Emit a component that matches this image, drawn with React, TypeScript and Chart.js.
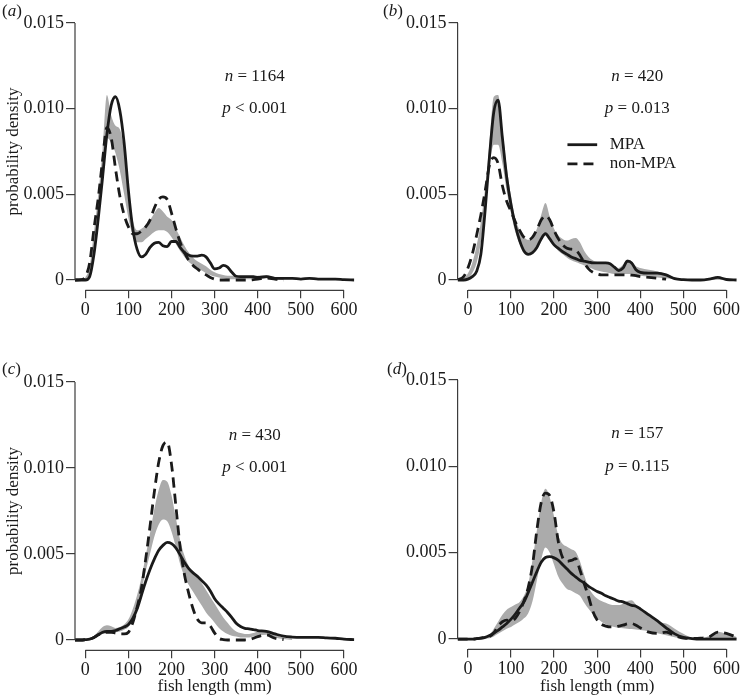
import React, { useEffect, useRef } from 'react';
import { Chart, registerables } from 'chart.js';

Chart.register(...registerables);

// fish length grid (mm)
const lengths = [
  -24, -10, 0, 10, 20, 30, 40, 50, 60, 70,
  80, 90, 100, 110, 120, 130, 140, 150, 160, 170,
  180, 190, 200, 210, 220, 230, 240, 250, 260, 270,
  280, 290, 300, 310, 320, 330, 340, 350, 360, 370,
  380, 390, 400, 420, 440, 460, 480, 500, 520, 540,
  560, 580, 600, 624,
];

const xTicks = [0, 100, 200, 300, 400, 500, 600];
const yTicks = [0, 0.005, 0.01, 0.015];

// probability density values, in units of 0.001
// (a)
const aMpa = [
  0, 0, 0, 0.2, 1.5, 3.6, 6.0, 8.5, 10.2, 10.7,
  9.9, 8.0, 5.2, 3.0, 1.8, 1.35, 1.5, 1.9, 2.15, 2.2,
  2.0, 1.95, 2.25, 2.25, 1.9, 1.6, 1.45, 1.4, 1.4, 1.45,
  1.35, 1.0, 0.65, 0.7, 0.85, 0.75, 0.45, 0.22, 0.2, 0.2,
  0.2, 0.2, 0.15, 0.2, 0.1, 0.1, 0.1, 0.05, 0.1, 0.05,
  0.05, 0.05, 0.02, 0,
];
const aNon = [
  0, 0.02, 0.2, 1.0, 3.0, 4.8, 7.0, 8.9, 8.3, 6.5,
  4.9, 3.8, 3.1, 2.7, 2.7, 2.85, 3.1, 3.5, 4.2, 4.7,
  4.85, 4.7, 3.9, 3.0, 2.2, 1.6, 1.15, 0.85, 0.65, 0.45,
  0.3, 0.15, 0.05, 0, 0, 0, 0, 0, 0, 0,
  0, 0.02, 0.05, 0.12, 0.05, 0, null, null, null, null,
  null, null, null, null,
];
const aLow = [
  0, 0, 0.05, 0.4, 1.8, 3.8, 6.2, 8.3, 8.0, 7.4,
  6.4, 5.0, 3.6, 2.6, 2.2, 2.2, 2.4, 2.6, 2.8, 2.9,
  2.9, 2.8, 2.5, 2.1, 1.7, 1.35, 1.05, 0.85, 0.7, 0.55,
  0.4, 0.3, 0.2, 0.15, 0.1, 0.05, 0.05, 0.05, 0.05, 0.05,
  0.05, 0.05, 0.05, 0.1, 0.05, 0, null, null, null, null,
  null, null, null, null,
];
const aHigh = [
  0, 0, 0.15, 0.8, 2.8, 5.0, 7.6, 10.8, 9.6, 9.0,
  8.8, 7.6, 5.2, 3.5, 2.9, 3.0, 3.2, 3.5, 3.9, 4.2,
  4.0, 3.7, 3.5, 3.0, 2.5, 2.0, 1.6, 1.3, 1.1, 0.95,
  0.8, 0.6, 0.45, 0.35, 0.3, 0.25, 0.25, 0.22, 0.2, 0.2,
  0.2, 0.22, 0.25, 0.3, 0.15, 0.08, null, null, null, null,
  null, null, null, null,
];

// (b)
const bMpa = [
  0, 0, 0.05, 0.2, 0.5, 1.5, 4.1, 7.2, 9.8, 10.5,
  8.3, 6.0, 4.4, 3.2, 2.3, 1.7, 1.5, 1.6, 1.9, 2.4,
  2.7, 2.4, 2.05, 1.85, 1.65, 1.5, 1.35, 1.25, 1.15, 1.1,
  1.05, 1.0, 1.0, 1.0, 1.0, 0.95, 0.75, 0.55, 0.7, 1.1,
  1.0, 0.6, 0.45, 0.4, 0.4, 0.3, 0.08, 0.02, 0, 0,
  0.05, 0.15, 0.03, 0,
];
const bNon = [
  0.02, 0.2, 0.7, 1.5, 2.6, 3.8, 5.2, 6.7, 7.15, 6.8,
  5.5, 4.6, 4.0, 3.4, 2.9, 2.5, 2.35, 2.5, 2.95, 3.5,
  3.75, 3.5, 2.9, 2.4, 2.05, 1.85, 1.8, 1.75, 1.45, 1.0,
  0.65, 0.45, 0.35, 0.3, 0.3, 0.3, 0.3, 0.3, 0.3, 0.3,
  0.28, 0.25, 0.2, 0.15, 0.1, 0.05, null, null, null, null,
  null, null, null, null,
];
const bLow = [
  0, 0, 0.1, 0.4, 1.0, 2.2, 4.2, 6.6, 7.9, 7.9,
  6.8, 5.2, 3.9, 2.8, 2.1, 1.7, 1.5, 1.6, 1.9, 2.4,
  2.7, 2.4, 2.0, 1.7, 1.5, 1.3, 1.15, 1.05, 0.95, 0.85,
  0.75, 0.65, 0.55, 0.5, 0.45, 0.4, 0.35, 0.35, 0.35, 0.35,
  0.35, 0.3, 0.25, 0.2, 0.15, 0.1, 0.03, 0, 0, 0,
  0, 0.02, 0, 0,
];
const bHigh = [
  0, 0.1, 0.4, 1.0, 2.0, 3.4, 5.4, 8.0, 10.7, 10.8,
  8.8, 6.6, 4.9, 3.6, 2.9, 2.5, 2.35, 2.5, 3.0, 3.8,
  4.5, 3.7, 3.0, 2.6, 2.4, 2.3, 2.4, 2.45, 2.2, 1.7,
  1.35, 1.15, 1.05, 1.05, 1.05, 1.0, 0.8, 0.7, 0.9, 1.2,
  1.1, 0.8, 0.7, 0.6, 0.5, 0.35, 0.15, 0.05, 0.02, 0.02,
  0.1, 0.2, 0.05, 0,
];

// (c)
const cMpa = [
  0, 0, 0.02, 0.05, 0.15, 0.3, 0.45, 0.5, 0.5, 0.55,
  0.65, 0.75, 0.9, 1.25, 1.8, 2.6, 3.4, 4.1, 4.7, 5.2,
  5.5, 5.67, 5.6, 5.35, 4.95, 4.5, 4.15, 3.9, 3.7, 3.45,
  3.2, 2.85, 2.4, 2.1, 1.85, 1.6, 1.3, 0.97, 0.78, 0.68,
  0.65, 0.6, 0.55, 0.5, 0.35, 0.22, 0.17, 0.15, 0.15, 0.15,
  0.12, 0.1, 0.05, 0.02,
];
const cNon = [
  0, 0, 0.02, 0.05, 0.15, 0.3, 0.4, 0.45, 0.45, 0.4,
  0.35, 0.35, 0.45, 1.0, 1.9, 3.0, 4.7, 6.6, 8.6, 10.3,
  11.3, 11.5, 10.2, 7.8, 5.4, 3.8, 2.7, 1.8, 1.2, 1.0,
  1.0, 0.8, 0.4, 0.1, 0.02, 0, 0, 0, 0, 0,
  0.02, 0.1, 0.2, 0.3, 0.1, 0.02, null, null, null, null,
  null, null, null, null,
];
const cLow = [
  0, 0, 0, 0.05, 0.1, 0.25, 0.35, 0.4, 0.45, 0.45,
  0.5, 0.6, 0.75, 1.2, 1.9, 2.9, 4.0, 5.0, 6.0, 6.7,
  7.0, 6.9, 6.3, 5.4, 4.4, 3.7, 3.2, 2.8, 2.4, 2.0,
  1.6, 1.3, 1.0, 0.7, 0.5, 0.35, 0.25, 0.2, 0.15, 0.15,
  0.15, 0.2, 0.25, 0.3, 0.15, 0.05, 0, null, null, null,
  null, null, null, null,
];
const cHigh = [
  0, 0, 0.05, 0.1, 0.25, 0.5, 0.75, 0.85, 0.8, 0.7,
  0.75, 0.9, 1.2, 1.8, 2.6, 3.6, 4.9, 6.2, 7.6, 8.7,
  9.3, 9.2, 8.4, 7.1, 5.8, 4.9, 4.3, 3.9, 3.6, 3.3,
  2.9, 2.5, 2.1, 1.7, 1.3, 1.0, 0.7, 0.5, 0.4, 0.35,
  0.35, 0.4, 0.5, 0.5, 0.3, 0.15, 0.05, null, null, null,
  null, null, null, null,
];

// (d)
const dMpa = [
  0, 0, 0, 0, 0.02, 0.05, 0.1, 0.2, 0.35, 0.5,
  0.7, 0.9, 1.15, 1.45, 1.8, 2.15, 2.7, 3.3, 3.9, 4.45,
  4.72, 4.77, 4.7, 4.55, 4.3, 4.05, 3.8, 3.6, 3.4, 3.25,
  3.05, 2.9, 2.75, 2.65, 2.5, 2.4, 2.3, 2.2, 2.15, 2.05,
  1.95, 1.9, 1.75, 1.4, 1.05, 0.65, 0.3, 0.1, 0.03, 0,
  0, 0, 0, 0,
];
const dNon = [
  0, 0, 0, 0, 0.02, 0.05, 0.1, 0.15, 0.35, 0.75,
  1.0, 1.1, 1.05, 1.2, 1.6, 2.2, 3.0, 4.3, 6.3, 7.9,
  8.45, 8.3, 7.3, 5.6, 4.7, 4.5, 4.55, 4.65, 4.0, 3.2,
  2.45, 1.6, 1.1, 0.85, 0.75, 0.7, 0.7, 0.75, 0.8, 0.88,
  0.9, 0.8, 0.65, 0.4, 0.33, 0.4, 0.2, 0.05, 0.03, 0.05,
  0.12, 0.4, 0.33, 0.1,
];
const dLow = [
  0, 0, 0, 0, 0, 0.02, 0.03, 0.05, 0.15, 0.3,
  0.45, 0.6, 0.7, 0.85, 1.0, 1.2, 1.5, 2.2, 3.4, 4.6,
  5.3, 5.0, 4.3, 3.6, 3.2, 2.9, 2.8, 2.65, 2.5, 2.1,
  1.75, 1.45, 1.2, 1.0, 0.85, 0.75, 0.7, 0.65, 0.62, 0.6,
  0.58, 0.55, 0.52, 0.45, 0.33, 0.22, 0.1, 0.03, 0, 0,
  0, 0.05, 0.02, 0,
];
const dHigh = [
  0, 0, 0, 0.02, 0.05, 0.1, 0.15, 0.25, 0.6, 1.0,
  1.4, 1.7, 1.85, 2.0, 2.15, 2.5, 3.2, 4.6, 6.3, 7.9,
  8.7, 8.2, 7.1, 6.0, 5.5, 5.35, 5.2, 5.05, 4.5, 3.7,
  3.0, 2.6, 2.35, 2.2, 2.1, 2.0, 1.97, 1.97, 2.05, 2.2,
  2.25, 2.0, 1.75, 1.35, 1.0, 0.9, 0.6, 0.3, 0.08, 0.05,
  0.18, 0.42, 0.3, 0.12,
];

const FONT = "'Liberation Serif', 'Times New Roman', Times, serif";
const INK = '#1a1a1a';
const AXIS = '#3c3c3c';
const GRAY = '#ababab';

type Part = [string, boolean];

type PanelCfg = {
  key: string;
  letter: string;
  left: number;
  top: number;
  width: number;
  height: number;
  padTop: number;
  padRight: number;
  yWidth: number;
  xHeight: number;
  yTitle: boolean;
  xTitle: boolean;
  mpa: (number | null)[];
  non: (number | null)[];
  lo: (number | null)[];
  hi: (number | null)[];
  nText: string;
  pText: string;
  legend: boolean;
  labelX: number;
  labelY: number;
};

const panels: PanelCfg[] = [
  {
    key: 'a', letter: 'a', left: 0, top: 0, width: 370, height: 330,
    padTop: 11.7, padRight: 15.7, yWidth: 75, xHeight: 39.7,
    yTitle: true, xTitle: false,
    mpa: aMpa, non: aNon, lo: aLow, hi: aHigh,
    nText: '= 1164', pText: '< 0.001', legend: false, labelX: 2, labelY: 12,
  },
  {
    key: 'b', letter: 'b', left: 370, top: 0, width: 371, height: 330,
    padTop: 11.7, padRight: 2.6, yWidth: 87.6, xHeight: 39.7,
    yTitle: false, xTitle: false,
    mpa: bMpa, non: bNon, lo: bLow, hi: bHigh,
    nText: '= 420', pText: '= 0.013', legend: true, labelX: 13, labelY: 12,
  },
  {
    key: 'c', letter: 'c', left: 0, top: 330, width: 370, height: 367,
    padTop: 41.7, padRight: 15.7, yWidth: 75, xHeight: 46.7,
    yTitle: true, xTitle: true,
    mpa: cMpa, non: cNon, lo: cLow, hi: cHigh,
    nText: '= 430', pText: '< 0.001', legend: false, labelX: 2, labelY: 40,
  },
  {
    key: 'd', letter: 'd', left: 370, top: 330, width: 371, height: 367,
    padTop: 39.6, padRight: 2.6, yWidth: 87.6, xHeight: 47.6,
    yTitle: false, xTitle: true,
    mpa: dMpa, non: dNon, lo: dLow, hi: dHigh,
    nText: '= 157', pText: '= 0.115', legend: false, labelX: 17, labelY: 40,
  },
];

function drawParts(ctx: CanvasRenderingContext2D, parts: Part[], x: number, y: number, size: number, align: 'left' | 'center') {
  const fonts = parts.map(([, it]) => `${it ? 'italic ' : ''}${size}px ${FONT}`);
  const widths = parts.map(([t], i) => {
    ctx.font = fonts[i];
    return ctx.measureText(t).width;
  });
  const total = widths.reduce((s, w) => s + w, 0);
  let cx = align === 'center' ? x - total / 2 : x;
  ctx.textAlign = 'left';
  ctx.textBaseline = 'middle';
  parts.forEach(([t], i) => {
    ctx.font = fonts[i];
    ctx.fillText(t, cx, y);
    cx += widths[i];
  });
}

function makeDecor(cfg: PanelCfg) {
  return {
    id: 'decor' + cfg.key,
    afterDraw(chart: any) {
      const { ctx, chartArea } = chart;
      const x = chart.scales.x;
      const y = chart.scales.y;
      ctx.save();
      // detached axis lines (span the tick range only)
      ctx.strokeStyle = AXIS;
      ctx.lineWidth = 1.2;
      ctx.beginPath();
      ctx.moveTo(chartArea.left, y.getPixelForValue(yTicks[0]));
      ctx.lineTo(chartArea.left, y.getPixelForValue(yTicks[yTicks.length - 1]));
      ctx.moveTo(x.getPixelForValue(xTicks[0]), chartArea.bottom);
      ctx.lineTo(x.getPixelForValue(xTicks[xTicks.length - 1]), chartArea.bottom);
      ctx.stroke();

      ctx.fillStyle = INK;
      // n and p annotations
      const ax = x.getPixelForValue(393);
      drawParts(ctx, [['n', true], [' ' + cfg.nText, false]], ax, y.getPixelForValue(0.0119), 17, 'center');
      drawParts(ctx, [['p', true], [' ' + cfg.pText, false]], ax, y.getPixelForValue(0.0100), 17, 'center');

      // panel letter
      drawParts(ctx, [['(', false], [cfg.letter, true], [')', false]], cfg.labelX, cfg.labelY, 17, 'left');

      // legend
      if (cfg.legend) {
        const ds = chart.data.datasets;
        const rows = [
          { v: 0.0079, ds: ds[0] },
          { v: 0.00678, ds: ds[1] },
        ];
        rows.forEach((r) => {
          const py = y.getPixelForValue(r.v);
          ctx.strokeStyle = r.ds.borderColor;
          ctx.lineWidth = r.ds.borderWidth;
          ctx.setLineDash(r.ds.borderDash || []);
          ctx.beginPath();
          ctx.moveTo(x.getPixelForValue(231), py);
          ctx.lineTo(x.getPixelForValue(300), py);
          ctx.stroke();
          ctx.setLineDash([]);
          drawParts(ctx, [[r.ds.label, false]], x.getPixelForValue(329), py, 17, 'left');
        });
      }
      ctx.restore();
    },
  };
}

const toPoints = (arr: (number | null)[]) =>
  lengths.map((len, i) => ({ x: len, y: arr[i] == null ? null : (arr[i] as number) / 1000 }));

function Panel({ cfg }: { cfg: PanelCfg }) {
  const ref = useRef<HTMLCanvasElement>(null);
  useEffect(() => {
    const tickFont = { family: FONT, size: 18 };
    const titleFont = { family: FONT, size: 17 };
    const chart = new Chart(ref.current as HTMLCanvasElement, {
      type: 'line',
      data: {
        datasets: [
          {
            label: 'MPA',
            data: toPoints(cfg.mpa),
            borderColor: INK,
            borderWidth: 2.8,
            pointRadius: 0,
            fill: false,
            cubicInterpolationMode: 'monotone',
          },
          {
            label: 'non-MPA',
            data: toPoints(cfg.non),
            borderColor: INK,
            borderWidth: 2.8,
            borderDash: [10, 6],
            pointRadius: 0,
            fill: false,
            cubicInterpolationMode: 'monotone',
          },
          {
            label: 'lower',
            data: toPoints(cfg.lo),
            borderColor: 'rgba(0,0,0,0)',
            borderWidth: 0,
            pointRadius: 0,
            fill: false,
            cubicInterpolationMode: 'monotone',
          },
          {
            label: 'upper',
            data: toPoints(cfg.hi),
            borderColor: 'rgba(0,0,0,0)',
            backgroundColor: GRAY,
            borderWidth: 0,
            pointRadius: 0,
            fill: 2,
            cubicInterpolationMode: 'monotone',
          },
        ],
      } as any,
      options: {
        animation: false,
        responsive: false,
        devicePixelRatio: 1,
        events: [],
        layout: {
          autoPadding: false,
          padding: { top: cfg.padTop, right: cfg.padRight, left: 0, bottom: 0 },
        },
        plugins: {
          legend: { display: false },
          tooltip: { enabled: false },
        },
        scales: {
          x: {
            type: 'linear',
            min: -24,
            max: 624,
            afterBuildTicks: (s: any) => {
              s.ticks = xTicks.map((v) => ({ value: v }));
            },
            afterFit: (s: any) => {
              s.height = cfg.xHeight;
            },
            border: { display: false },
            grid: {
              drawOnChartArea: false,
              drawTicks: true,
              tickLength: 8,
              color: AXIS,
              lineWidth: 1.2,
            },
            ticks: {
              font: tickFont,
              color: INK,
              padding: 1,
              maxRotation: 0,
              autoSkip: false,
              callback: (v: any) => String(v),
            },
            title: {
              display: cfg.xTitle,
              text: 'fish length (mm)',
              font: titleFont,
              color: INK,
              padding: { top: 0, bottom: 0 },
            },
          },
          y: {
            type: 'linear',
            min: -0.0006,
            max: 0.0156,
            afterBuildTicks: (s: any) => {
              s.ticks = yTicks.map((v) => ({ value: v }));
            },
            afterFit: (s: any) => {
              s.width = cfg.yWidth;
            },
            border: { display: false },
            grid: {
              drawOnChartArea: false,
              drawTicks: true,
              tickLength: 9,
              color: AXIS,
              lineWidth: 1.2,
            },
            ticks: {
              font: tickFont,
              color: INK,
              padding: 2,
              autoSkip: false,
              callback: (v: any) => (v === 0 ? '0' : Number(v).toFixed(3)),
            },
            title: {
              display: cfg.yTitle,
              text: 'probability density',
              font: titleFont,
              color: INK,
              padding: { top: 3, bottom: 0 },
            },
          },
        },
      } as any,
      plugins: [makeDecor(cfg)],
    });
    return () => chart.destroy();
  }, []);
  return (
    <canvas
      ref={ref}
      width={cfg.width}
      height={cfg.height}
      style={{ position: 'absolute', left: cfg.left, top: cfg.top, width: cfg.width, height: cfg.height }}
    />
  );
}

export default function App() {
  return (
    <div style={{ position: 'absolute', left: 0, top: 0, width: 741, height: 697, background: '#ffffff' }}>
      {panels.map((p) => (
        <Panel key={p.key} cfg={p} />
      ))}
    </div>
  );
}
